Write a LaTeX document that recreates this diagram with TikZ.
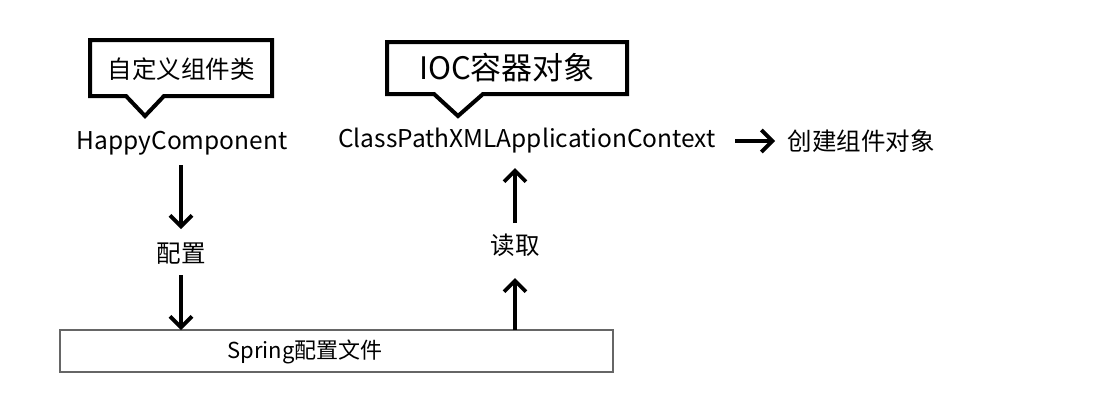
\documentclass[tikz,border=0pt]{standalone}
\usepackage{fontspec}
\setmainfont{Noto Sans CJK SC}
\usetikzlibrary{arrows.meta}
\tikzset{
  lbl/.style={inner sep=0pt, font=\fontsize{24.5}{28}\selectfont},
  big/.style={inner sep=0pt, font=\fontsize{31}{36}\selectfont},
  callout/.style={line width=4pt, line join=miter, fill=white},
  flow/.style={line width=3.8pt, -{Straight Barb[length=11pt,width=22pt,line width=3.8pt]}},
  filebox/.style={draw=black!60, line width=1.2pt, minimum width=553pt, minimum height=42pt, inner sep=0pt},
  filetext/.style={inner sep=0pt, font=\fontsize{22}{26}\selectfont}
}
\begin{document}
\begin{tikzpicture}[x=1pt,y=-1pt]
\useasboundingbox (0,0) rectangle (1098,416);
% callouts
\draw[callout] (90,40) -- (272,40) -- (272,96) -- (164,96) -- (145,116) -- (126,96) -- (90,96) -- cycle;
\node[lbl] (c1) at (181,69) {自定义组件类};
\draw[callout] (387,42) -- (627,42) -- (627,94) -- (483,94) -- (458,116) -- (434,94) -- (387,94) -- cycle;
\node[big] (c2) at (507,68) {IOC容器对象};
% main texts
\node[lbl] (hc) at (182,143) {HappyComponent};
\node[lbl] (cp) at (527,141) {ClassPathXMLApplicationContext};
\node[lbl] (cj) at (861,141) {创建组件对象};
\node[lbl] (pz) at (181,254) {配置};
\node[lbl] (dq) at (515,245) {读取};
\node[filebox] (sf) at (336.5,351) {};
\node[filetext] (sft) at (305,352) {Spring配置文件};
% anchor points
\coordinate (a1s) at (181,165);
\coordinate (a1e) at (181,229);
\coordinate (a2s) at (181,275);
\coordinate (a2e) at (181,330);
\coordinate (b1s) at (515,330);
\coordinate (b1e) at (515,278);
\coordinate (b2s) at (515,223);
\coordinate (b2e) at (515,168);
\coordinate (c1s) at (735,141);
\coordinate (c1e) at (775,141);
% connectors
\draw[flow] (a1s) -- (a1e);
\draw[flow] (a2s) -- (a2e);
\draw[flow] (b1s) -- (b1e);
\draw[flow] (b2s) -- (b2e);
\draw[flow] (c1s) -- (c1e);
\end{tikzpicture}
\end{document}
